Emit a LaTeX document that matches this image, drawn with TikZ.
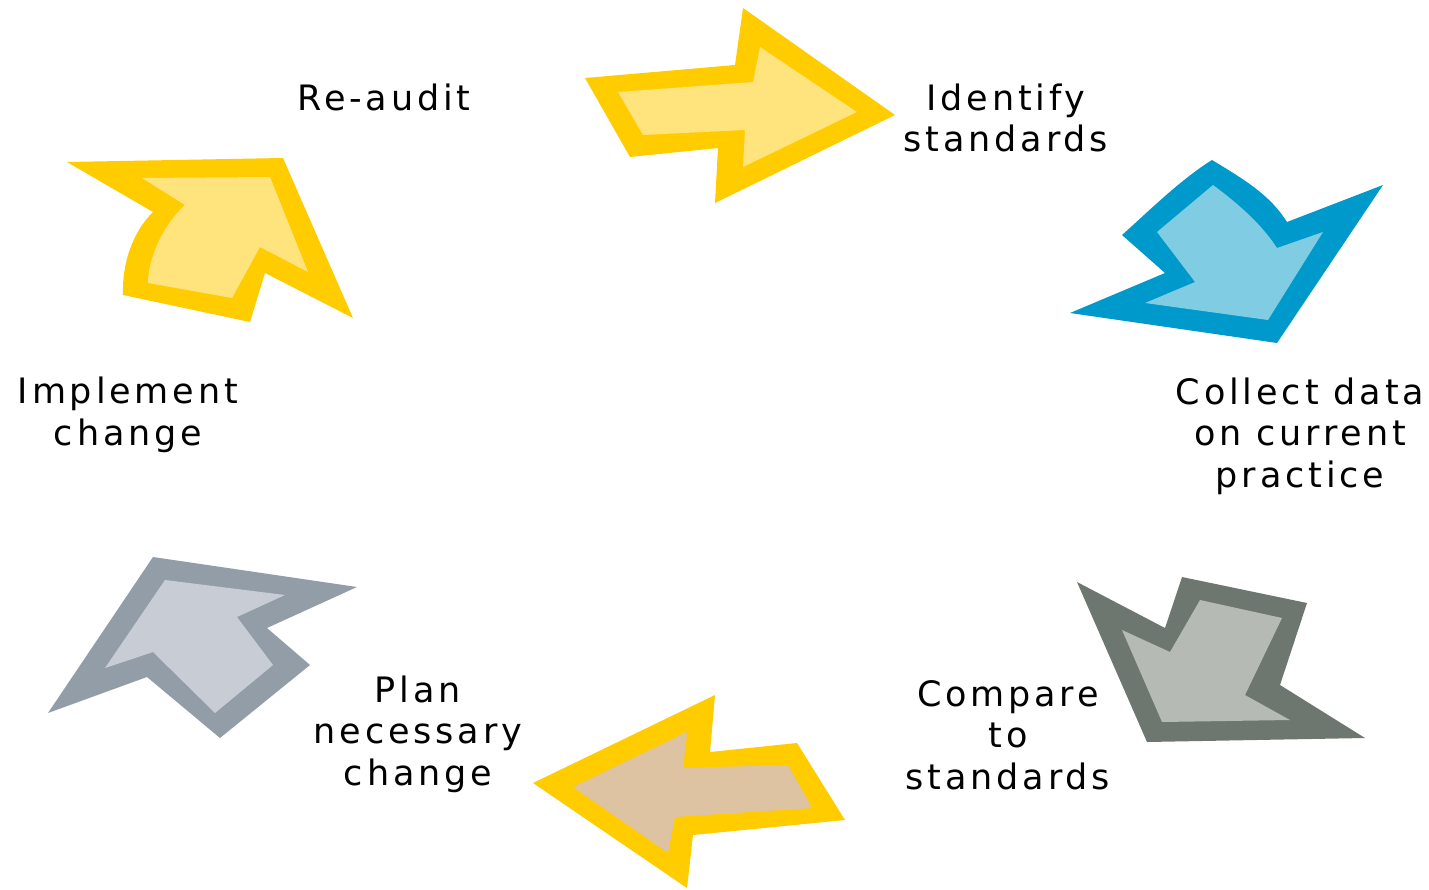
\documentclass[tikz,border=0pt]{standalone}
\usepackage{fontspec}
\setmainfont{DejaVu Sans}[LetterSpace=11]
\definecolor{ydark}{HTML}{FFCC00}
\definecolor{ylight}{HTML}{FFE37D}
\definecolor{bdark}{HTML}{0099CC}
\definecolor{blight}{HTML}{7FCCE3}
\definecolor{gdark}{HTML}{6E776F}
\definecolor{glight}{HTML}{B5BAB4}
\definecolor{brlight}{HTML}{DEC3A2}
\definecolor{sdark}{HTML}{939DA8}
\definecolor{slight}{HTML}{C8CDD5}
\tikzset{
  lbl/.style={align=center, inner sep=0pt, font=\fontsize{35}{41.5}\selectfont},
}
\begin{document}
\begin{tikzpicture}[x=1pt,y=-1pt]
\useasboundingbox[fill=white] (0,0) rectangle (1429,889);
% Arrow 1: top, yellow, pointing right
\fill[ydark] (585,78) -- (735,65) -- (743,8) -- (895,115) -- (715,203) -- (718,148) -- (630,157) -- cycle;
\fill[ylight] (618,92) -- (753,82) -- (760,47) -- (857,112) -- (743,167) -- (745,130) -- (643,135) -- cycle;
% Arrow 2: blue, pointing down
\fill[bdark] (1212,160) .. controls (1245,180) and (1270,195) .. (1287,222) -- (1383,185) -- (1277,343) -- (1070,313) -- (1165,273) -- (1122,235) .. controls (1150,210) and (1180,180) .. cycle;
\fill[blight] (1213,185) .. controls (1240,205) and (1262,225) .. (1277,248) -- (1323,232) -- (1268,320) -- (1145,303) -- (1195,282) -- (1157,232) -- cycle;
% Arrow 3: gray, pointing down-right
\fill[gdark] (1077,582) -- (1165,628) -- (1182,577) -- (1307,603) -- (1280,685) -- (1365,738) -- (1147,742) -- cycle;
\fill[glight] (1122,630) -- (1170,652) -- (1200,600) -- (1282,618) -- (1245,695) -- (1290,720) -- (1162,722) -- cycle;
% Arrow 4: bottom, yellow/brown, pointing left
\fill[ydark] (533,783) -- (715,695) -- (710,752) -- (797,743) -- (845,820) -- (693,835) -- (687,888) -- cycle;
\fill[brlight] (573,787) -- (687,732) -- (683,768) -- (788,765) -- (812,808) -- (675,817) -- (668,853) -- cycle;
% Arrow 5: slate, pointing up-left
\fill[sdark] (153,557) -- (357,587) -- (267,628) -- (310,665) -- (220,738) -- (147,677) -- (48,713) -- cycle;
\fill[slight] (165,580) -- (285,595) -- (237,617) -- (273,665) -- (215,713) -- (153,652) -- (105,668) -- cycle;
% Arrow 6: yellow, pointing up
\fill[ydark] (67,162) -- (283,158) -- (353,318) -- (265,273) -- (250,322) -- (123,295) .. controls (122,262) and (133,232) .. (153,212) -- cycle;
\fill[ylight] (142,178) -- (270,177) -- (308,272) -- (260,247) -- (232,298) -- (148,283) .. controls (148,262) and (160,228) .. (185,205) -- cycle;
% Labels
\node[lbl] (reaudit) at (384,97) {Re-audit};
\node[lbl] (identify) at (1006,118) {Identify\\standards};
\node[lbl] (collect) at (1300,436) {Collect data\\on current\\practice};
\node[lbl] (compare) at (1008,735) {Compare\\to\\standards};
\node[lbl] (plan) at (418,734) {Plan\\necessary\\change};
\node[lbl] (implement) at (128,415) {Implement\\change};
\end{tikzpicture}
\end{document}
